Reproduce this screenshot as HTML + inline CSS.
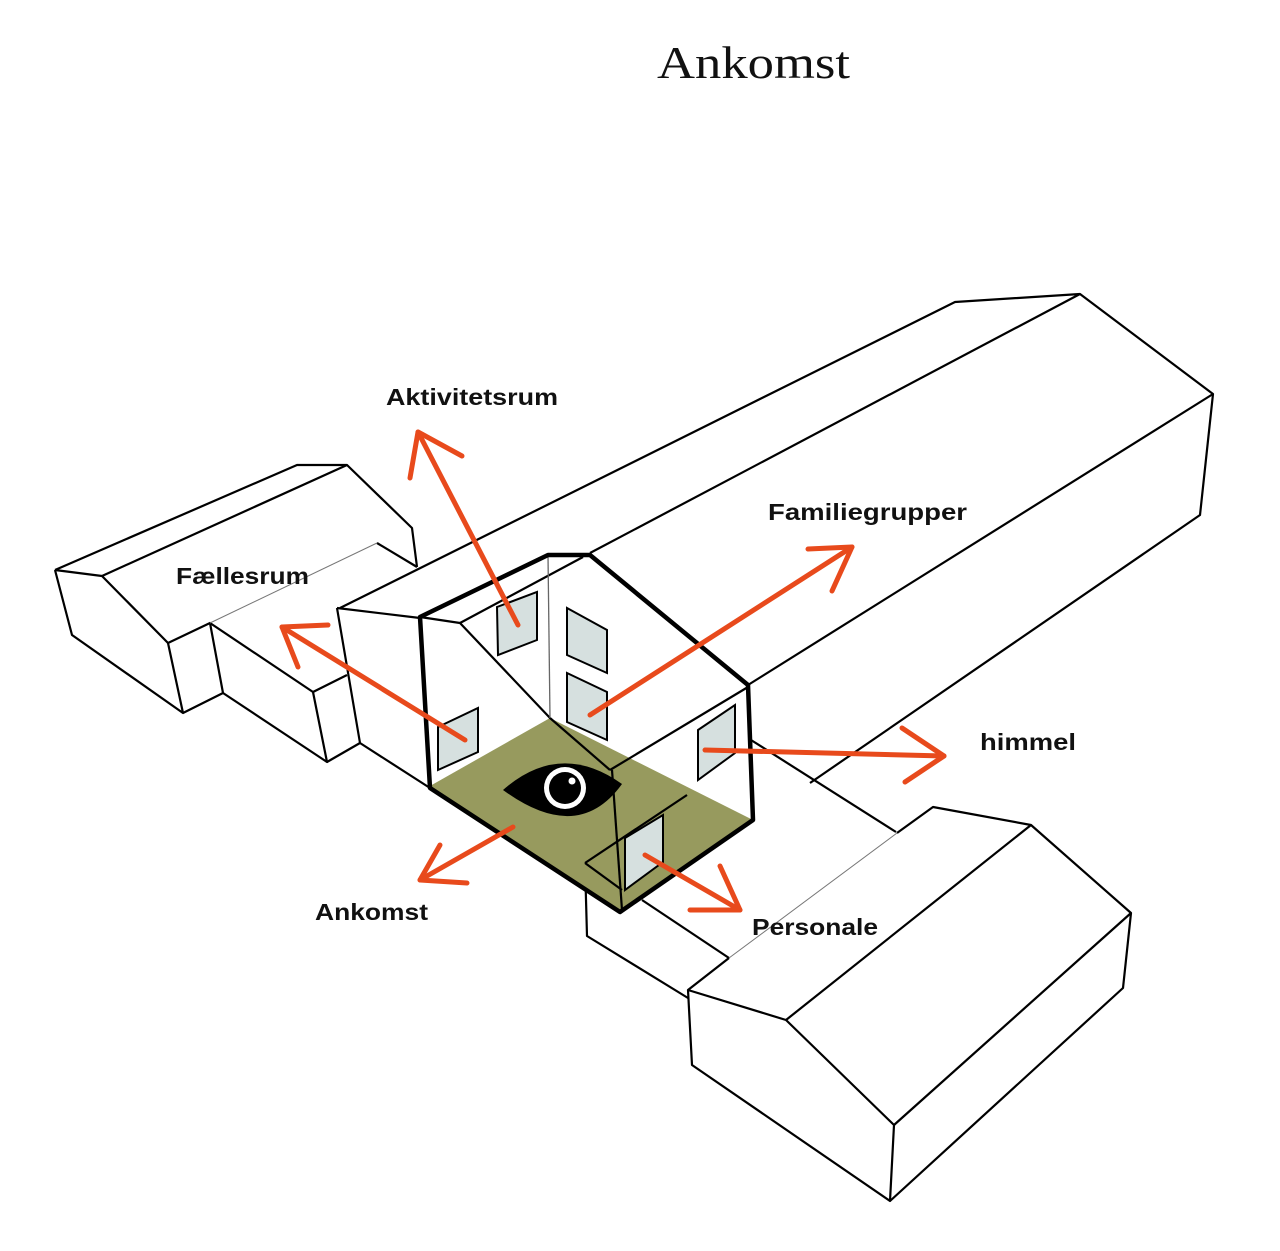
<!DOCTYPE html>
<html><head><meta charset="utf-8"><style>
html,body{margin:0;padding:0;background:#fff}
svg{display:block}
.t{stroke:#000;stroke-width:2.2;fill:none;stroke-linejoin:round}
.th{stroke:#000;stroke-width:4.5;fill:none;stroke-linejoin:round}
.g{stroke:#777;stroke-width:1;fill:none}
.w{fill:#d6e0df;stroke:#000;stroke-width:2}
.a{stroke:#e84a1c;stroke-width:5;fill:none;stroke-linecap:round;stroke-linejoin:round}
.l{font-family:"Liberation Sans",sans-serif;font-weight:bold;font-size:23px;fill:#111}
</style></head><body>
<svg width="1280" height="1251" viewBox="0 0 1280 1251" xmlns="http://www.w3.org/2000/svg">
<rect width="1280" height="1251" fill="#fff"/>
<text x="657" y="78" font-family="Liberation Serif,serif" font-size="46" textLength="193" lengthAdjust="spacingAndGlyphs" fill="#111">Ankomst</text>

<g class="t">
<polyline points="340,608 955,302 1080,294 1213,394 1200,515 810,783"/>
<line x1="1080" y1="294" x2="590" y2="553"/>
<line x1="1213" y1="394" x2="748" y2="685"/>
<line x1="751" y1="740" x2="896" y2="832"/>
</g>

<g class="t">
<polyline points="55,570 297,465 347,465 412,528 417,567"/>
<polyline points="55,570 72,635 183,713 223,693 210,623 168,643 183,713"/>
<polyline points="55,570 102,576 168,643"/>
<line x1="347" y1="465" x2="102" y2="576"/>
<line x1="377" y1="543" x2="417" y2="567"/>
<polyline points="210,623 313,692 327,762 223,693"/>
<polyline points="313,692 347,675"/>
<polyline points="327,762 360,743"/>
<polyline points="337,608 360,743 430,788"/>
<line x1="337" y1="608" x2="420" y2="618"/>
</g>
<line class="g" x1="210" y1="623" x2="377" y2="543"/>

<g class="t">
<polyline points="585,863 587,936 688,998"/>
<line x1="642" y1="900" x2="729" y2="958"/>
<polyline points="688,990 786,1020 894,1125 890,1201 692,1065 688,990 729,958"/>
<polyline points="897,833 933,807 1031,825 1131,913 1123,988 890,1201"/>
<line x1="786" y1="1020" x2="1031" y2="825"/>
<line x1="894" y1="1125" x2="1131" y2="913"/>
</g>
<line class="g" x1="729" y1="958" x2="897" y2="833"/>

<polygon points="430,786 550,718 753,820 620,912" fill="#979a5e"/>
<g class="t">
<polyline points="420,617 460,623 550,718 610,770"/>
<line x1="460" y1="623" x2="583" y2="557"/>
<line x1="610" y1="770" x2="748" y2="687"/>
<line x1="612" y1="770" x2="622" y2="910"/>
<polyline points="585,863 687,795"/>
<line x1="585" y1="863" x2="622" y2="890"/>
</g>
<line x1="548" y1="555" x2="550" y2="718" stroke="#666" stroke-width="1.3"/>
<polygon class="th" points="420,617 548,555 590,555 748,685 753,820 620,912 430,788"/>

<polygon class="w" points="497,607 537,592 537,640 498,655"/>
<polygon class="w" points="567,608 607,630 607,673 567,655"/>
<polygon class="w" points="567,673 607,692 607,740 567,722"/>
<polygon class="w" points="438,727 478,708 478,752 438,770"/>
<polygon class="w" points="698,730 735,705 735,753 698,780"/>
<polygon class="w" points="625,838 663,815 663,862 625,890"/>

<path d="M503,790 Q560,740 622,784 Q578,845 503,790 Z" fill="#000"/>
<circle cx="565" cy="788" r="21" fill="#fff"/>
<circle cx="565" cy="788" r="16" fill="#000"/>
<circle cx="572" cy="781" r="3.5" fill="#fff"/>

<polyline class="a" points="518,625 418,432"/>
<polyline class="a" points="410,478 418,432 462,456"/>
<polyline class="a" points="465,740 282,627"/>
<polyline class="a" points="328,625 282,627 298,667"/>
<polyline class="a" points="590,715 852,547"/>
<polyline class="a" points="808,549 852,547 832,591"/>
<polyline class="a" points="705,750 944,756"/>
<polyline class="a" points="902,728 944,756 905,782"/>
<polyline class="a" points="513,827 420,880"/>
<polyline class="a" points="440,845 420,880 467,883"/>
<polyline class="a" points="645,855 740,910"/>
<polyline class="a" points="720,866 740,910 690,910"/>

<text class="l" x="386" y="405" textLength="172" lengthAdjust="spacingAndGlyphs">Aktivitetsrum</text>
<text class="l" x="768" y="520" textLength="199" lengthAdjust="spacingAndGlyphs">Familiegrupper</text>
<text class="l" x="176" y="584" textLength="133" lengthAdjust="spacingAndGlyphs">Fællesrum</text>
<text class="l" x="980" y="750" textLength="96" lengthAdjust="spacingAndGlyphs">himmel</text>
<text class="l" x="315" y="920" textLength="113" lengthAdjust="spacingAndGlyphs">Ankomst</text>
<text class="l" x="752" y="935" textLength="126" lengthAdjust="spacingAndGlyphs">Personale</text>
</svg>
</body></html>
